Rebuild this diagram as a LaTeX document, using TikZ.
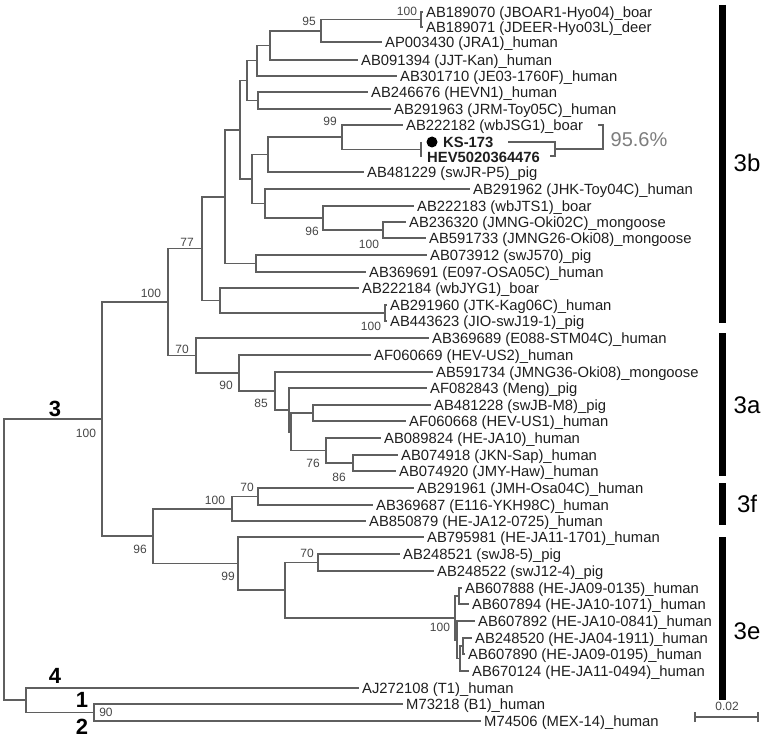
\documentclass[tikz,border=0pt]{standalone}
\usepackage{fontspec}
\setmainfont{Liberation Sans}
\definecolor{treegray}{RGB}{95,95,95}
\definecolor{labelc}{RGB}{30,30,30}
\definecolor{bootc}{RGB}{70,70,70}
\definecolor{pctgray}{RGB}{125,125,125}
\tikzset{
  br/.style={draw=treegray, line width=1.6pt},
  leaf/.style={anchor=west, inner xsep=3pt, inner ysep=0pt, text height=10.6pt, text depth=0pt, font=\fontsize{14.8}{15}\selectfont, text=labelc},
  boot/.style={font=\fontsize{12}{12}\selectfont, text=bootc, inner sep=0pt},
  clade/.style={font=\fontsize{22}{22}\selectfont\bfseries, text=black, inner sep=0pt},
  grp/.style={font=\fontsize{24}{24}\selectfont, text=black, inner sep=0pt},
  gbar/.style={draw=black, line width=7pt},
  brk/.style={draw=treegray, line width=1.3pt},
}
\begin{document}
\begin{tikzpicture}[x=1pt,y=-1pt]
\useasboundingbox (0,0) rectangle (778,738);
% ---------- leaves ----------
\node[leaf] (L1) at (423,12) {AB189070 (JBOAR1-Hyo04)\_boar};
\node[leaf] (L2) at (423,27) {AB189071 (JDEER-Hyo03L)\_deer};
\node[leaf] (L3) at (382,42) {AP003430 (JRA1)\_human};
\node[leaf] (L4) at (358,60) {AB091394 (JJT-Kan)\_human};
\node[leaf] (L5) at (397,76) {AB301710 (JE03-1760F)\_human};
\node[leaf] (L6) at (368,92) {AB246676 (HEVN1)\_human};
\node[leaf] (L7) at (391,109) {AB291963 (JRM-Toy05C)\_human};
\node[leaf] (L8) at (403,125) {AB222182 (wbJSG1)\_boar};
\node[circle, fill=black, inner sep=0pt, minimum size=11pt] (dot) at (432,142) {};
\node[leaf, font=\fontsize{14.8}{15}\selectfont\bfseries] (KS) at (440,142) {KS-173};
\node[leaf, font=\fontsize{14.8}{15}\selectfont\bfseries] (HEV) at (424,157) {HEV5020364476};
\node[leaf] (L11) at (364,172) {AB481229 (swJR-P5)\_pig};
\node[leaf] (L12) at (470,189) {AB291962 (JHK-Toy04C)\_human};
\node[leaf] (L13) at (414,206) {AB222183 (wbJTS1)\_boar};
\node[leaf] (L14) at (406,222) {AB236320 (JMNG-Oki02C)\_mongoose};
\node[leaf] (L15) at (426,238) {AB591733 (JMNG26-Oki08)\_mongoose};
\node[leaf] (L16) at (427,255) {AB073912 (swJ570)\_pig};
\node[leaf] (L17) at (366,272) {AB369691 (E097-OSA05C)\_human};
\node[leaf] (L18) at (359,288) {AB222184 (wbJYG1)\_boar};
\node[leaf] (L19) at (387,305) {AB291960 (JTK-Kag06C)\_human};
\node[leaf] (L20) at (387,321) {AB443623 (JIO-swJ19-1)\_pig};
\node[leaf] (L21) at (429,338) {AB369689 (E088-STM04C)\_human};
\node[leaf] (L22) at (371,355) {AF060669 (HEV-US2)\_human};
\node[leaf] (L23) at (433,372) {AB591734 (JMNG36-Oki08)\_mongoose};
\node[leaf] (L24) at (427,388) {AF082843 (Meng)\_pig};
\node[leaf] (L25) at (431,405) {AB481228 (swJB-M8)\_pig};
\node[leaf] (L26) at (406,421) {AF060668 (HEV-US1)\_human};
\node[leaf] (L27) at (381,438) {AB089824 (HE-JA10)\_human};
\node[leaf] (L28) at (398,455) {AB074918 (JKN-Sap)\_human};
\node[leaf] (L29) at (396,471) {AB074920 (JMY-Haw)\_human};
\node[leaf] (L30) at (414,488) {AB291961 (JMH-Osa04C)\_human};
\node[leaf] (L31) at (373,505) {AB369687 (E116-YKH98C)\_human};
\node[leaf] (L32) at (366,521) {AB850879 (HE-JA12-0725)\_human};
\node[leaf] (L33) at (424,537) {AB795981 (HE-JA11-1701)\_human};
\node[leaf] (L34) at (400,554) {AB248521 (swJ8-5)\_pig};
\node[leaf] (L35) at (434,571) {AB248522 (swJ12-4)\_pig};
\node[leaf] (L36) at (462,588) {AB607888 (HE-JA09-0135)\_human};
\node[leaf] (L37) at (469,604) {AB607894 (HE-JA10-1071)\_human};
\node[leaf] (L38) at (475,621) {AB607892 (HE-JA10-0841)\_human};
\node[leaf] (L39) at (472,638) {AB248520 (HE-JA04-1911)\_human};
\node[leaf] (L40) at (465,654) {AB607890 (HE-JA09-0195)\_human};
\node[leaf] (L41) at (469,671) {AB670124 (HE-JA11-0494)\_human};
\node[leaf] (L42) at (359,688) {AJ272108 (T1)\_human};
\node[leaf] (L43) at (403,704) {M73218 (B1)\_human};
\node[leaf] (L44) at (481,721) {M74506 (MEX-14)\_human};
% ---------- internal nodes ----------
\coordinate (nP1) at (421,19.5);
\coordinate (n95) at (321,30.75);
\coordinate (n270) at (270,45.4);
\coordinate (n257) at (257,60.7);
\coordinate (nHV) at (258,100.5);
\coordinate (n247) at (247,80.6);
\coordinate (nKS) at (421,149.5);
\coordinate (n99) at (342,137);
\coordinate (n268) at (268,154.5);
\coordinate (n100m) at (383,230);
\coordinate (n96) at (323,218);
\coordinate (n265) at (265,203.5);
\coordinate (n252) at (252,179);
\coordinate (n240) at (240,129.8);
\coordinate (n256) at (256,263.5);
\coordinate (n225) at (225,196.7);
\coordinate (nP2) at (385,313);
\coordinate (n220) at (220,300.5);
\coordinate (n77) at (202,248.6);
\coordinate (n86) at (353,463);
\coordinate (n76) at (326,450.5);
\coordinate (n313) at (313,413);
\coordinate (n291) at (291,431.7);
\coordinate (n289) at (289,409.9);
\coordinate (n85) at (275,391);
\coordinate (n90) at (239,373);
\coordinate (n70a) at (196,355.5);
\coordinate (n100b) at (168,302);
\coordinate (n70f) at (258,496.5);
\coordinate (n100f) at (232,508.7);
\coordinate (n70e) at (318,562.5);
\coordinate (e1) at (459,596);
\coordinate (e2) at (463,646);
\coordinate (e3) at (460,658.5);
\coordinate (e4) at (457,639.7);
\coordinate (e5) at (455,618);
\coordinate (n285) at (285,590);
\coordinate (n99e) at (238,563.5);
\coordinate (n96r) at (153,536);
\coordinate (n3) at (102,419);
\coordinate (n90g) at (94,712.5);
\coordinate (n26) at (26,700);
\coordinate (root) at (4,559.5);
% ---------- branches ----------
\draw[br] (nP1) |- (L1.west);  \draw[br] (nP1) |- (L2.west);
\draw[br] (n95) |- (nP1);      \draw[br] (n95) |- (L3.west);
\draw[br] (n270) |- (n95);     \draw[br] (n270) |- (L4.west);
\draw[br] (n257) |- (n270);    \draw[br] (n257) |- (L5.west);
\draw[br] (nHV) |- (L6.west);  \draw[br] (nHV) |- (L7.west);
\draw[br] (n247) |- (n257);    \draw[br] (n247) |- (nHV);
\draw[br] (nKS|-dot) -- (nKS|-HEV);
\draw[br] (n99) |- (L8.west);  \draw[br] (n99) |- (nKS);
\draw[br] (n268) |- (n99);     \draw[br] (n268) |- (L11.west);
\draw[br] (n100m) |- (L14.west); \draw[br] (n100m) |- (L15.west);
\draw[br] (n96) |- (L13.west); \draw[br] (n96) |- (n100m);
\draw[br] (n265) |- (L12.west); \draw[br] (n265) |- (n96);
\draw[br] (n252) |- (n268);    \draw[br] (n252) |- (n265);
\draw[br] (n240) |- (n247);    \draw[br] (n240) |- (n252);
\draw[br] (n256) |- (L16.west); \draw[br] (n256) |- (L17.west);
\draw[br] (n225) |- (n240);    \draw[br] (n225) |- (n256);
\draw[br] (nP2) |- (L19.west); \draw[br] (nP2) |- (L20.west);
\draw[br] (n220) |- (L18.west); \draw[br] (n220) |- (nP2);
\draw[br] (n77) |- (n225);     \draw[br] (n77) |- (n220);
\draw[br] (n86) |- (L28.west); \draw[br] (n86) |- (L29.west);
\draw[br] (n76) |- (L27.west); \draw[br] (n76) |- (n86);
\draw[br] (n313) |- (L25.west); \draw[br] (n313) |- (L26.west);
\draw[br] (n291) |- (n313);    \draw[br] (n291) |- (n76);
\draw[br] (n289) |- (L24.west); \draw[br] (n289) |- (n291);
\draw[br] (n85) |- (L23.west); \draw[br] (n85) |- (n289);
\draw[br] (n90) |- (L22.west); \draw[br] (n90) |- (n85);
\draw[br] (n70a) |- (L21.west); \draw[br] (n70a) |- (n90);
\draw[br] (n100b) |- (n77);    \draw[br] (n100b) |- (n70a);
\draw[br] (n70f) |- (L30.west); \draw[br] (n70f) |- (L31.west);
\draw[br] (n100f) |- (n70f);   \draw[br] (n100f) |- (L32.west);
\draw[br] (n70e) |- (L34.west); \draw[br] (n70e) |- (L35.west);
\draw[br] (e1) |- (L36.west);  \draw[br] (e1) |- (L37.west);
\draw[br] (e2) |- (L39.west);  \draw[br] (e2) |- (L40.west);
\draw[br] (e3) |- (e2);        \draw[br] (e3) |- (L41.west);
\draw[br] (e4) |- (L38.west);  \draw[br] (e4) |- (e3);
\draw[br] (e5) |- (e1);        \draw[br] (e5) |- (e4);
\draw[br] (n285) |- (n70e);    \draw[br] (n285) |- (e5);
\draw[br] (n99e) |- (L33.west); \draw[br] (n99e) |- (n285);
\draw[br] (n96r) |- (n100f);   \draw[br] (n96r) |- (n99e);
\draw[br] (n3) |- (n100b);     \draw[br] (n3) |- (n96r);
\draw[br] (n90g) |- (L43.west); \draw[br] (n90g) |- (L44.west);
\draw[br] (n26) |- (L42.west); \draw[br] (n26) |- (n90g);
\draw[br] (root) |- (n3);      \draw[br] (root) |- (n26);
% ---------- bootstrap values ----------
\node[boot] (b1) at (407,11) {100};
\node[boot] (b2) at (309,21) {95};
\node[boot] (b3) at (330,121) {99};
\node[boot] (b4) at (312,231) {96};
\node[boot] (b5) at (369,244) {100};
\node[boot] (b6) at (187,242) {77};
\node[boot] (b7) at (151,293) {100};
\node[boot] (b8) at (371,326) {100};
\node[boot] (b9) at (182,349) {70};
\node[boot] (b10) at (226,385) {90};
\node[boot] (b11) at (261,403) {85};
\node[boot] (b12) at (313,463) {76};
\node[boot] (b13) at (339,477) {86};
\node[boot] (b14) at (247,487) {70};
\node[boot] (b15) at (215,500) {100};
\node[boot] (b16) at (140,549) {96};
\node[boot] (b17) at (307,553) {70};
\node[boot] (b18) at (228,576) {99};
\node[boot] (b19) at (440,627) {100};
\node[boot] (b20) at (86,433) {100};
\node[boot] (b21) at (106,712) {90};
% ---------- genotype numbers ----------
\node[clade] (g3) at (55,409) {3};
\node[clade] (g4) at (55,676) {4};
\node[clade] (g1) at (82,700) {1};
\node[clade] (g2) at (82,727) {2};
% ---------- identity bracket ----------
\coordinate (k1) at (508,142);
\coordinate (k2) at (555,142);
\coordinate (k3) at (555,156);
\coordinate (k4) at (550,156);
\coordinate (m1) at (555,149);
\coordinate (m2) at (603,149);
\coordinate (t1) at (603,125);
\coordinate (t2) at (598,125);
\draw[brk] (k1) -- (k2) -- (k3) -- (k4);
\draw[brk] (m1) -- (m2) -- (t1) -- (t2);
\node[font=\fontsize{20}{20}\selectfont, text=pctgray, inner sep=0pt] (pct) at (639,140) {95.6\%};
% ---------- subgenotype bars ----------
\coordinate (s3bt) at (722,5);   \coordinate (s3bb) at (722,323);
\coordinate (s3at) at (722,333); \coordinate (s3ab) at (722,476);
\coordinate (s3ft) at (722,483); \coordinate (s3fb) at (722,525);
\coordinate (s3et) at (722,537); \coordinate (s3eb) at (722,700);
\draw[gbar] (s3bt) -- (s3bb);
\draw[gbar] (s3at) -- (s3ab);
\draw[gbar] (s3ft) -- (s3fb);
\draw[gbar] (s3et) -- (s3eb);
\node[grp] (t3b) at (747,163) {3b};
\node[grp] (t3a) at (747,405) {3a};
\node[grp] (t3f) at (747,504) {3f};
\node[grp] (t3e) at (747,631) {3e};
% ---------- scale bar ----------
\coordinate (sa) at (695,717);
\coordinate (sb) at (758,717);
\draw[br, line width=1.2pt] (sa) -- (sb);
\draw[br, line width=1.2pt] ([yshift=-5pt]sa) -- ([yshift=5pt]sa);
\draw[br, line width=1.2pt] ([yshift=-5pt]sb) -- ([yshift=5pt]sb);
\node[boot] (s02) at (727,706) {0.02};
\end{tikzpicture}
\end{document}
